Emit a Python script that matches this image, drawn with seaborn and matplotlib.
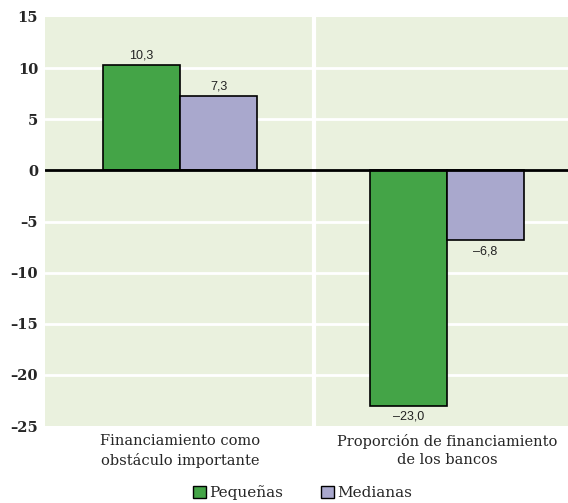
import matplotlib
matplotlib.use("Agg")
import matplotlib.pyplot as plt
import seaborn as sns
import pandas as pd
from matplotlib.patches import Patch

categories = ["Financiamiento como\nobstáculo importante",
              "Proporción de financiamiento\nde los bancos"]
series = ["Pequeñas", "Medianas"]
pequenas = [10.3, -23.0]
medianas = [7.3, -6.8]
yticks = [15, 10, 5, 0, -5, -10, -15, -20, -25]

df = pd.DataFrame({
    "cat": categories * 2,
    "serie": [series[0]] * 2 + [series[1]] * 2,
    "val": pequenas + medianas,
})

colors = {"Pequeñas": "#44A447", "Medianas": "#A9A8CD"}

sns.set_style("white")
fig = plt.figure(figsize=(5.68, 5.03), dpi=100)
ax = fig.add_axes([45 / 568, 1 - 426 / 503, 1 - 45 / 568, (426 - 17) / 503])
ax.set_facecolor("#EAF1DE")

sns.barplot(data=df, x="cat", y="val", hue="serie", palette=colors,
            saturation=1, width=0.577, edgecolor="black", linewidth=1.2,
            ax=ax, legend=False, zorder=3)

ax.set_ylim(-25, 15)
ax.set_xlim(-0.506, 1.453)
ax.set_yticks(yticks)
ax.set_yticklabels([str(t).replace("-", "–") for t in yticks],
                   family="DejaVu Serif", fontweight="bold", fontsize=10.5)
ax.set_xticks([0, 1])
ax.set_xticklabels(categories, family="DejaVu Serif", fontsize=10.5,
                   linespacing=1.35)
ax.tick_params(axis="y", length=0, pad=5)
ax.tick_params(axis="x", length=0, pad=6)
ax.set_xlabel("")
ax.set_ylabel("")
for s in ax.spines.values():
    s.set_visible(False)

for t in yticks:
    if t not in (15, -25, 0):
        ax.axhline(t, color="white", lw=2, zorder=1)
ax.axvline(0.5, color="white", lw=3, zorder=1)
ax.axhline(0, color="black", lw=2, zorder=4)

def fmt(v):
    s = f"{v:.1f}".replace(".", ",")
    return s.replace("-", "–")

for cont in ax.containers:
    for bar in cont:
        h = bar.get_height()
        x = bar.get_x() + bar.get_width() / 2
        if h >= 0:
            ax.text(x, h + 0.3, fmt(h), ha="center", va="bottom",
                    fontsize=9, family="Liberation Sans", color="#222222")
        else:
            ax.text(x, h - 0.5, fmt(h), ha="center", va="top",
                    fontsize=9, family="Liberation Sans", color="#222222")

handles = [Patch(facecolor=colors[s], edgecolor="black", linewidth=1.0) for s in series]
fig.legend(handles, series, loc="lower center", bbox_to_anchor=(0.532, -0.022),
           ncol=2, frameon=False, prop={"family": "DejaVu Serif", "size": 11},
           handlelength=0.85, handleheight=0.85, handletextpad=0.2, columnspacing=2.5)

fig.savefig("out.png", dpi=100)
